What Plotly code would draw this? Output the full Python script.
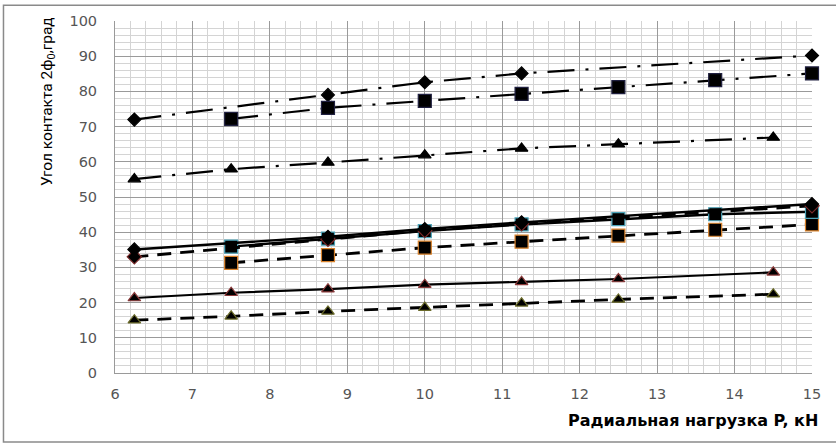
import plotly.graph_objects as go

# x positions (радиальная нагрузка P, кН)
x_d = [6.25, 8.75, 10, 11.25, 15]
x_s = [7.5, 8.75, 10, 11.25, 12.5, 13.75, 15]
x_t = [6.25, 7.5, 8.75, 10, 11.25, 12.5, 14.5]

# upper group (dash-dot)
top_diamond = [72, 79, 82.6, 85.1, 90.2]
top_square = [72.2, 75.3, 77.3, 79.3, 81.2, 83.2, 85.1]
top_triangle = [55.1, 57.9, 59.8, 61.9, 63.8, 65.0, 66.9]

# lower group
sol_diamond = [35.1, 38.7, 40.9, 42.8, 48.0]
dash_diamond = [33.0, 38.0, 40.5, 42.4, 47.5]
sol_square = [35.9, 38.2, 40.3, 42.2, 43.7, 45.1, 45.8]
dash_square = [31.3, 33.5, 35.6, 37.3, 39.0, 40.7, 42.2]
sol_triangle = [21.3, 22.8, 23.8, 25.1, 25.9, 26.7, 28.6]
dash_triangle = [15.0, 16.1, 17.5, 18.6, 19.8, 20.9, 22.4]

x_ticks = [6, 7, 8, 9, 10, 11, 12, 13, 14, 15]
y_ticks = [0, 10, 20, 30, 40, 50, 60, 70, 80, 90, 100]

DASHDOT = "27px,11px,3px,11px"
DASH = "14px,9px"

series = [
    (x_d, top_diamond, "diamond", 10, "black", DASHDOT, 2.2),
    (x_s, top_square, "square", 13, "#202040", DASHDOT, 2.2),
    (x_t, top_triangle, "triangle-up", 11, "black", DASHDOT, 2.2),
    (x_t, dash_triangle, "triangle-up", 11, "#6b6b2a", DASH, 2.8),
    (x_t, sol_triangle, "triangle-up", 11, "#8b3a3a", "solid", 2.2),
    (x_s, dash_square, "square", 13, "#d9822b", DASH, 2.8),
    (x_s, sol_square, "square", 13, "#4aa3b8", "solid", 2.4),
    (x_d, dash_diamond, "diamond", 11, "#7a2a2a", DASH, 2.8),
    (x_d, sol_diamond, "diamond", 10, "black", "solid", 2.4),
]

fig = go.Figure()
for xs, ys, sym, size, edge, dash, w in series:
    fig.add_trace(go.Scatter(
        x=xs, y=ys, mode="lines+markers", cliponaxis=False,
        line=dict(color="black", width=w, dash=dash),
        marker=dict(symbol=sym, size=size, color="black",
                    line=dict(color=edge, width=1.2)),
        showlegend=False,
    ))

tickfont = dict(family="DejaVu Sans", size=14.5, color="#555555")

fig.update_layout(
    width=836, height=445,
    margin=dict(l=115, r=24, t=21, b=72),
    paper_bgcolor="white", plot_bgcolor="white",
    xaxis=dict(
        range=[6, 15], tickvals=x_ticks, ticktext=[str(v) for v in x_ticks],
        showgrid=True, gridcolor="#9a9a9a", gridwidth=1,
        minor=dict(dtick=0.2, showgrid=True, gridcolor="#d4d4d4", gridwidth=1),
        showline=True, linecolor="#9a9a9a", linewidth=1,
        zeroline=False, tickfont=tickfont, ticks="", ticklabelstandoff=8,
    ),
    yaxis=dict(
        range=[0, 100], tickvals=y_ticks, ticktext=[str(v) for v in y_ticks],
        showgrid=True, gridcolor="#9a9a9a", gridwidth=1,
        minor=dict(dtick=2, showgrid=True, gridcolor="#d4d4d4", gridwidth=1),
        showline=True, linecolor="#9a9a9a", linewidth=1,
        zeroline=False, tickfont=tickfont, ticks="", ticklabelstandoff=14,
    ),
    shapes=[dict(type="rect", xref="paper", yref="paper",
                 x0=-0.16, x1=1.04, y0=-0.196, y1=1.045,
                 line=dict(color="#8a8a8a", width=1.5), layer="above")],
    annotations=[
        dict(text="Угол контакта 2ф<sub>0</sub>,град", textangle=-90,
             xref="paper", yref="paper", x=-0.096, y=0.77,
             xanchor="center", yanchor="middle", showarrow=False,
             font=dict(family="Roboto", size=15.5, color="black")),
        dict(text="<b>Радиальная нагрузка P, кН</b>",
             xref="paper", yref="paper", x=1.011, y=-0.135,
             xanchor="right", yanchor="middle", showarrow=False,
             font=dict(family="DejaVu Sans", size=16, color="black")),
    ],
)

fig.write_html("out.html", config={"displayModeBar": False},
               post_script="document.body.style.margin='0';document.body.style.padding='0';")
